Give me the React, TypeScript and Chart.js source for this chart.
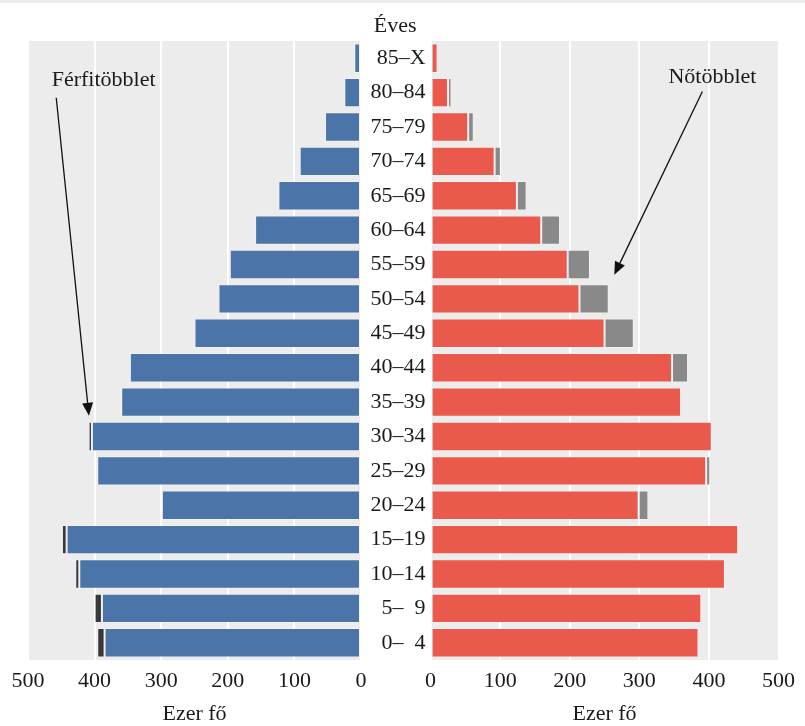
import React, { useEffect, useRef } from "react";
import { Chart, registerables } from "chart.js";

Chart.register(...registerables);

// ---- data (thousand persons), ordered top to bottom ----
const ageGroups = [
  "85–X", "80–84", "75–79", "70–74", "65–69", "60–64", "55–59", "50–54", "45–49",
  "40–44", "35–39", "30–34", "25–29", "20–24", "15–19", "10–14", "5–\u20079", "0–\u20074",
];
const male = [10, 25, 54, 92, 124, 159, 197, 214, 250, 347, 362, 409, 396, 299, 449, 429, 400, 396];
const female = [13, 30, 62, 101, 138, 186, 229, 256, 292, 370, 360, 404, 402, 313, 442, 423, 389, 385];
const axisMax = 500;
const axisStep = 100;
const axisTitle = "Ezer fő";
const centerTitle = "Éves";
const maleNote = "Férfitöbblet";
const femaleNote = "Nőtöbblet";

const FONT = "'Liberation Serif', 'Times New Roman', serif";
const TEXT = "#1a1a1a";
const BG = "#ebeceb";

const common = male.map((m, i) => Math.min(m, female[i]));
const maleSurplus = male.map((m, i) => Math.max(m - female[i], 0));
const femaleSurplus = female.map((f, i) => Math.max(f - male[i], 0));

const bgPlugin = {
  id: "panelBg",
  beforeDraw(chart: any) {
    const { ctx, chartArea } = chart;
    ctx.save();
    ctx.fillStyle = BG;
    ctx.fillRect(chartArea.left, chartArea.top, chartArea.right - chartArea.left, chartArea.bottom - chartArea.top);
    ctx.restore();
  },
};

function drawArrow(ctx: CanvasRenderingContext2D, x1: number, y1: number, x2: number, y2: number) {
  const ang = Math.atan2(y2 - y1, x2 - x1);
  const L = 13;
  const W = 5.5;
  const bx = x2 - L * Math.cos(ang);
  const by = y2 - L * Math.sin(ang);
  ctx.save();
  ctx.strokeStyle = "#111";
  ctx.fillStyle = "#111";
  ctx.lineWidth = 1.3;
  ctx.beginPath();
  ctx.moveTo(x1, y1);
  ctx.lineTo(bx, by);
  ctx.stroke();
  ctx.beginPath();
  ctx.moveTo(x2, y2);
  ctx.lineTo(bx + W * Math.sin(ang), by - W * Math.cos(ang));
  ctx.lineTo(bx - W * Math.sin(ang), by + W * Math.cos(ang));
  ctx.closePath();
  ctx.fill();
  ctx.restore();
}

function makeNotePlugin(id: string, text: string, textAt: [number, number], from: [number, number], to: [number, number]) {
  return {
    id,
    afterDatasetsDraw(chart: any) {
      const { ctx } = chart;
      const xs = chart.scales.x;
      const ys = chart.scales.y;
      ctx.save();
      ctx.font = `22px ${FONT}`;
      ctx.fillStyle = TEXT;
      ctx.textAlign = "center";
      ctx.textBaseline = "alphabetic";
      ctx.fillText(text, xs.getPixelForValue(textAt[0]), ys.getPixelForValue(textAt[1]));
      ctx.restore();
      drawArrow(
        ctx,
        xs.getPixelForValue(from[0]), ys.getPixelForValue(from[1]),
        xs.getPixelForValue(to[0]), ys.getPixelForValue(to[1])
      );
    },
  };
}

const centerTitlePlugin = {
  id: "centerTitle",
  afterDraw(chart: any) {
    const { ctx, chartArea } = chart;
    ctx.save();
    ctx.font = `22px ${FONT}`;
    ctx.fillStyle = TEXT;
    ctx.textAlign = "center";
    ctx.textBaseline = "alphabetic";
    ctx.fillText(centerTitle, chartArea.left - 35.5, chartArea.top - 9);
    ctx.restore();
  },
};

function xAxis(reverse: boolean) {
  return {
    type: "linear" as const,
    reverse,
    min: 0,
    max: axisMax,
    stacked: true,
    grid: { color: "#ffffff", lineWidth: 2, drawTicks: false },
    border: { display: false },
    ticks: {
      stepSize: axisStep,
      padding: 10,
      color: TEXT,
      font: { family: FONT, size: 22, lineHeight: 1 },
      maxRotation: 0,
    },
    title: {
      display: true,
      text: axisTitle,
      color: TEXT,
      font: { family: FONT, size: 22, lineHeight: 1 },
      padding: { top: 1, bottom: 1 },
    },
  };
}

const barStyle = {
  barPercentage: 0.855,
  categoryPercentage: 1.0,
  borderWidth: 1,
  borderColor: "rgba(255,255,255,0.3)",
  borderSkipped: false as const,
};

export default function App() {
  const leftRef = useRef<HTMLCanvasElement>(null);
  const rightRef = useRef<HTMLCanvasElement>(null);

  useEffect(() => {
    const left = new Chart(leftRef.current as HTMLCanvasElement, {
      type: "bar",
      data: {
        labels: ageGroups,
        datasets: [
          { label: "Férfi", data: common, backgroundColor: "#4b74a9", ...barStyle },
          { label: maleNote, data: maleSurplus, backgroundColor: "#383838", ...barStyle },
        ],
      },
      options: {
        indexAxis: "y",
        responsive: false,
        animation: false,
        layout: { padding: { left: 28, right: 19, top: 41, bottom: 0 } },
        plugins: { legend: { display: false }, tooltip: { enabled: false } },
        scales: {
          x: xAxis(true),
          y: { type: "category", stacked: true, display: false },
        },
      },
      plugins: [bgPlugin, makeNotePlugin("maleNote", maleNote, [386.5, 0.81], [457.6, 1.15], [408.5, 10.4])],
    });

    const right = new Chart(rightRef.current as HTMLCanvasElement, {
      type: "bar",
      data: {
        labels: ageGroups,
        datasets: [
          { label: "Nő", data: common, backgroundColor: "#e9594c", ...barStyle },
          { label: femaleNote, data: femaleSurplus, backgroundColor: "#898989", ...barStyle },
        ],
      },
      options: {
        indexAxis: "y",
        responsive: false,
        animation: false,
        layout: { padding: { left: 0, right: 26, top: 41, bottom: 0 } },
        plugins: { legend: { display: false }, tooltip: { enabled: false } },
        scales: {
          x: xAxis(false),
          y: {
            type: "category",
            stacked: true,
            grid: { display: false, drawTicks: false },
            border: { display: false },
            ticks: {
              padding: 5,
              color: TEXT,
              font: { family: FONT, size: 22, lineHeight: 1 },
              autoSkip: false,
            },
            afterFit: (s: any) => {
              s.width = 69.6;
            },
          },
        },
      },
      plugins: [bgPlugin, centerTitlePlugin, makeNotePlugin("femaleNote", femaleNote, [405, 0.73], [390.6, 0.97], [264, 6.3])],
    });

    return () => {
      left.destroy();
      right.destroy();
    };
  }, []);

  return (
    <div style={{ position: "absolute", left: 0, top: 0, width: 805, height: 726, background: "#fff", overflow: "hidden" }}>
      <div style={{ position: "absolute", left: 0, top: 0, width: 805, height: 3, background: BG }} />
      <canvas ref={leftRef} width={380} height={726} style={{ position: "absolute", left: 0, top: 0 }} />
      <canvas ref={rightRef} width={444} height={726} style={{ position: "absolute", left: 361, top: 0 }} />
    </div>
  );
}
